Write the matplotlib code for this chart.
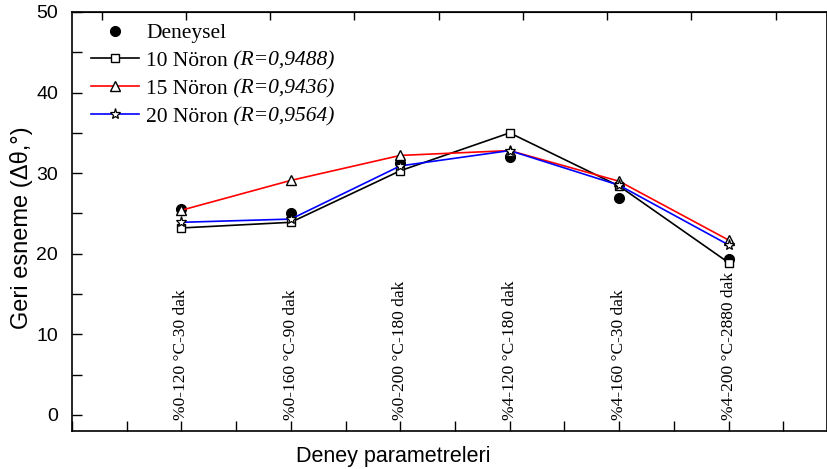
import numpy as np
import matplotlib
matplotlib.use("Agg")
import matplotlib.pyplot as plt
from matplotlib.ticker import MultipleLocator

categories = ["%0-120 °C-30 dak", "%0-160 °C-90 dak", "%0-200 °C-180 dak",
              "%4-120 °C-180 dak", "%4-160 °C-30 dak", "%4-200 °C-2880 dak"]
deneysel = [25.6, 25.0, 31.3, 32.0, 26.9, 19.4]
noron10 = [23.2, 23.9, 30.3, 35.0, 28.4, 18.9]
noron15 = [25.4, 29.1, 32.2, 32.8, 29.0, 21.7]
noron20 = [23.9, 24.3, 30.9, 32.8, 28.5, 21.1]
r_values = ["(R=0,9488)", "(R=0,9436)", "(R=0,9564)"]

x = np.arange(1, len(categories) + 1)

fig = plt.figure(figsize=(8.27, 4.69), dpi=100)
ax = fig.add_axes([72 / 827, 38 / 469, 755 / 827, 419 / 469])

ax.plot(x, noron10, color="black", lw=1.2, marker="s", ms=6, mfc="white",
        mec="black", label="10 Nöron", zorder=3)
ax.plot(x, noron15, color="red", lw=1.2, marker="^", ms=7, mfc="white",
        mec="black", label="15 Nöron", zorder=3)
ax.plot(x, noron20, color="blue", lw=1.2, marker="*", ms=8, mfc="white",
        mec="black", mew=0.9, label="20 Nöron", zorder=4)
ax.plot(x, deneysel, ls="none", marker="o", ms=7, color="black",
        label="Deneysel", zorder=2)

handles, labels = ax.get_legend_handles_labels()
order = [3, 0, 1, 2]
leg = ax.legend([handles[i] for i in order], [labels[i] for i in order],
                loc="upper left", bbox_to_anchor=(0.0, 1.02), frameon=False,
                prop={"family": "Liberation Serif", "size": 15.5},
                handlelength=2.2, handletextpad=0.35, labelspacing=0.36)

ax.set_xlim(0, 6.9)
ax.set_ylim(-2, 50)
ax.set_xticks(x)
ax.set_xticklabels([])
ax.xaxis.set_minor_locator(MultipleLocator(0.5))
ax.yaxis.set_major_locator(MultipleLocator(10))
ax.yaxis.set_minor_locator(MultipleLocator(5))
ax.tick_params(which="both", direction="in", length=7, width=1,
               top=False, right=False, labelsize=14, pad=10)
for lab in ax.get_yticklabels():
    lab.set_fontfamily("Liberation Sans")

for xi, cat in zip(x, categories):
    ax.text(xi, -0.6, cat, rotation=90, ha="center", va="bottom",
            family="Liberation Serif", fontsize=12.5)

# ticks on the top spine
top = ax.secondary_xaxis("top")
top.set_xticks(np.arange(0.27, 6.9, 0.77))
top.set_xticklabels([])
top.tick_params(direction="in", length=6, width=1)

for s in ax.spines.values():
    s.set_linewidth(1.2)

ax.set_xlabel("Deney parametreleri", family="Liberation Sans", fontsize=15.5)
ax.xaxis.set_label_coords(0.425, -0.035, transform=ax.transAxes)
ax.xaxis.label.set_va("top")
ax.set_ylabel("Geri esneme (Δθ,°)", family="Liberation Sans", fontsize=17)
ax.yaxis.set_label_coords(-0.052, 0.485, transform=ax.transAxes)

# italic R values after the neuron labels (needs legend text positions)
fig.canvas.draw()
for txt, rv in zip(leg.get_texts()[1:], r_values):
    ax.annotate(" " + rv, xy=(1, 0), xycoords=txt, va="bottom", ha="left",
                family="Liberation Serif", fontstyle="italic", fontsize=15.5,
                zorder=6)

fig.savefig("out.png", dpi=100)
